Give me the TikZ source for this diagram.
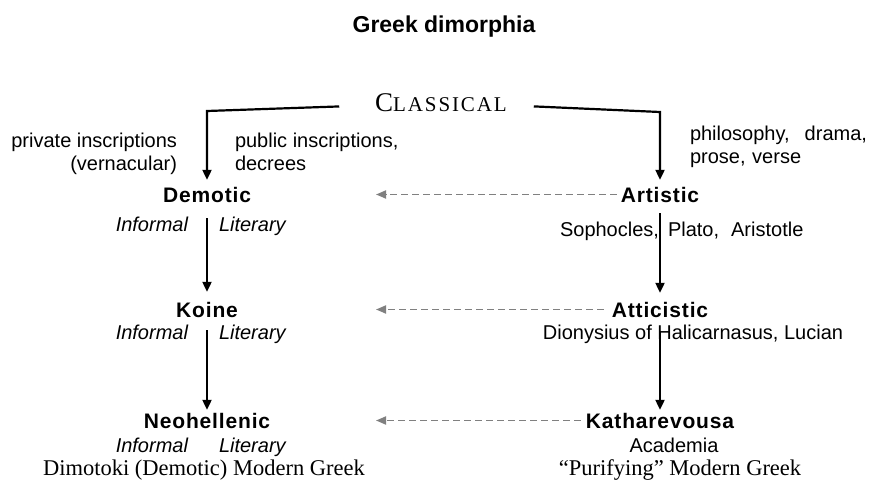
\documentclass[tikz,border=0pt]{standalone}
\usepackage{fontspec}
\setmainfont{Liberation Serif}
\setsansfont{Liberation Sans}
\newfontfamily\spacedsans[LetterSpace=4]{Liberation Sans}
\newfontfamily\spacedserif[LetterSpace=9]{Liberation Serif}
\usepackage{tikz}
\usetikzlibrary{arrows.meta, positioning}
\definecolor{dashgray}{RGB}{128,128,128}

\begin{document}
\begin{tikzpicture}[x=1pt, y=-1pt, outer sep=0pt, inner sep=0pt]
    \tikzstyle{lang} = [font=\spacedsans\bfseries\fontsize{21}{24}\selectfont]
    \tikzstyle{note} = [font=\sffamily\fontsize{20}{23}\selectfont]
    \tikzstyle{register} = [font=\sffamily\itshape\fontsize{20}{23}\selectfont]
    \tikzstyle{modern} = [font=\rmfamily\fontsize{22.5}{26}\selectfont]
    \tikzstyle{descent} = [line width=2.2pt, -{Triangle[length=10pt, width=9pt]}]
    \tikzstyle{influence} = [dashgray, line width=1.8pt, dash pattern=on 7pt off 4pt, -{Triangle[length=10pt, width=8pt]}]
    \useasboundingbox (0,0) rectangle (871,480);
    \node[anchor=base, font=\sffamily\bfseries\fontsize{23}{27}\selectfont] (title) at (444,32) {Greek dimorphia};
    \node[anchor=base] (classical) at (441,111) {\spacedserif\fontsize{27}{30}\selectfont C\fontsize{21}{30}\selectfont LASSICAL};
    \node[lang, anchor=base] (demotic) at (207,202) {Demotic};
    \node[lang, anchor=base] (artistic) at (660,202) {Artistic};
    \node[lang, anchor=base] (koine) at (207,317) {Koine};
    \node[lang, anchor=base] (atticistic) at (660,317) {Atticistic};
    \node[lang, anchor=base] (neohellenic) at (207,428) {Neohellenic};
    \node[lang, anchor=base] (katharevousa) at (660,428) {Katharevousa};
    \node[note, anchor=base east, align=right] (private) at (177,170) {private inscriptions\\(vernacular)};
    \node[note, anchor=base west, align=left] (public) at (235,170) {public inscriptions,\\decrees};
    \node[note, anchor=base west, text width=177pt, align=left] (genres) at (690,140) {philosophy,\hfill drama,\\prose, verse};
    \node[register, anchor=base east] (informal1) at (188,231) {Informal};
    \node[register, anchor=base west] (literary1) at (219,231) {Literary};
    \node[register, anchor=base east] (informal2) at (188,339) {Informal};
    \node[register, anchor=base west] (literary2) at (219,339) {Literary};
    \node[register, anchor=base east] (informal3) at (188,452) {Informal};
    \node[register, anchor=base west] (literary3) at (219,452) {Literary};
    \node[modern, anchor=base] (dimotoki) at (204,475) {Dimotoki (Demotic) Modern Greek};
    \node[note, anchor=base east] (sophocles) at (659,236) {Sophocles,};
    \node[note, anchor=base west] (authors) at (668,236) {Plato,\hspace{12pt}Aristotle};
    \node[note, anchor=base] (dionysius) at (693,339) {Dionysius of Halicarnasus, Lucian};
    \node[note, anchor=base] (academia) at (674,452) {Academia};
    \node[modern, anchor=base] (purifying) at (680,475) {“Purifying” Modern Greek};
    \coordinate (dleft) at (207,111);
    \coordinate (dright) at (660,112);
    \coordinate (tip) at (376,0);
    \draw[influence, shorten <=4pt] (artistic.west) -- (artistic.west -| tip);
    \draw[influence, shorten <=8pt] (atticistic.west) -- (atticistic.west -| tip);
    \draw[influence, shorten <=5pt] (katharevousa.west) -- (katharevousa.west -| tip);
    \draw[descent, shorten <=36pt, shorten >=7pt] ([yshift=-3pt]classical.west) -- (dleft) -- (demotic.north);
    \draw[descent, shorten <=27pt, shorten >=7pt] ([yshift=-3pt]classical.east) -- (dright) -- (artistic.north);
    \draw[descent, shorten <=16pt, shorten >=10pt] (demotic.south) -- (koine.north);
    \draw[descent, shorten <=13pt, shorten >=3pt] (koine.south) -- (neohellenic.north);
    \draw[descent, shorten <=11pt, shorten >=9pt] (artistic.south) -- (atticistic.north);
    \draw[descent, shorten <=15pt, shorten >=3pt] (atticistic.south) -- (katharevousa.north);
\end{tikzpicture}
\end{document}
